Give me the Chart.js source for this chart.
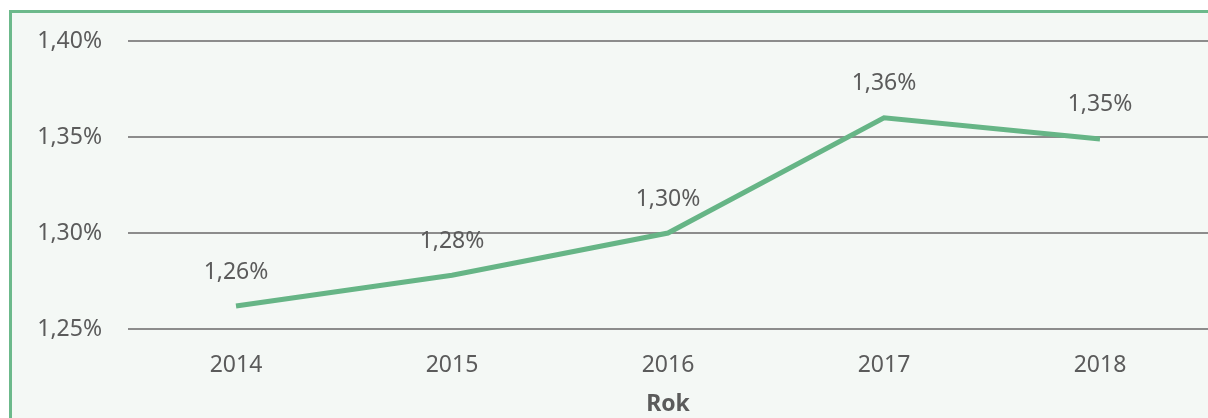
<!DOCTYPE html>
<html>
<head>
<meta charset="utf-8">
<script src="https://cdn.jsdelivr.net/npm/chart.js@4/dist/chart.umd.min.js"></script>
<style>
  html, body { margin: 0; padding: 0; background: #ffffff; overflow: hidden; }
  #frame {
    position: absolute; left: 9px; top: 10px; width: 1220px; height: 430px;
    background: #f4f8f5; border-left: 3px solid #6cb98b; border-top: 3px solid #6cb98b;
  }
  #myChart { position: absolute; left: 0; top: 0; }
</style>
</head>
<body>
<div id="frame"></div>
<canvas id="myChart" width="1208" height="418"></canvas>
<script>
  const years = ['2014', '2015', '2016', '2017', '2018'];
  const values = [1.262, 1.278, 1.300, 1.360, 1.349];
  const valueLabels = ['1,26%', '1,28%', '1,30%', '1,36%', '1,35%'];
  const yTicks = [1.25, 1.30, 1.35, 1.40];

  const fontFamily = '"Noto Sans", sans-serif';
  const textColor = '#5b5b5b';

  // napisy nad punktami
  const pointLabels = {
    id: 'pointLabels',
    afterDatasetsDraw(chart) {
      const ctx = chart.ctx;
      const meta = chart.getDatasetMeta(0);
      ctx.save();
      ctx.font = '23px ' + fontFamily;
      ctx.fillStyle = textColor;
      ctx.textAlign = 'center';
      ctx.textBaseline = 'middle';
      meta.data.forEach((pt, i) => {
        ctx.fillText(valueLabels[i], pt.x, pt.y - 34);
      });
      ctx.restore();
    }
  };

  const ctx = document.getElementById('myChart').getContext('2d');

  let myChart = new Chart(ctx, {
    type: 'line',
    data: {
      labels: years,
      datasets: [{
        label: 'Rok',
        data: values,
        borderColor: '#66b586',
        borderWidth: 5,
        pointRadius: 0,
        tension: 0,
        fill: false
      }]
    },
    options: {
      responsive: false,
      animation: false,
      layout: { padding: { top: 41, right: 0, left: 0, bottom: 0 } },
      plugins: {
        legend: { display: false },
        tooltip: { enabled: false }
      },
      scales: {
        x: {
          offset: true,
          grid: { display: false },
          border: { display: false },
          ticks: {
            color: textColor,
            font: { family: fontFamily, size: 23 },
            padding: 15,
            maxRotation: 0
          },
          title: {
            display: true,
            text: 'Rok',
            color: textColor,
            font: { family: fontFamily, size: 23, weight: 'bold' },
            padding: { top: 4, bottom: 0 }
          },
          afterFit: function (scale) { scale.height = 89; }
        },
        y: {
          min: 1.25,
          max: 1.40,
          afterBuildTicks: function (scale) {
            scale.ticks = yTicks.map(v => ({ value: v }));
          },
          grid: { color: '#8c8c8c', lineWidth: 2, drawTicks: false },
          border: { display: false },
          ticks: {
            color: textColor,
            font: { family: fontFamily, size: 23 },
            padding: 26,
            callback: function (v) { return v.toFixed(2).replace('.', ',') + '%'; }
          },
          afterFit: function (scale) { scale.width = 128; }
        }
      }
    },
    plugins: [pointLabels]
  });
</script>
</body>
</html>
